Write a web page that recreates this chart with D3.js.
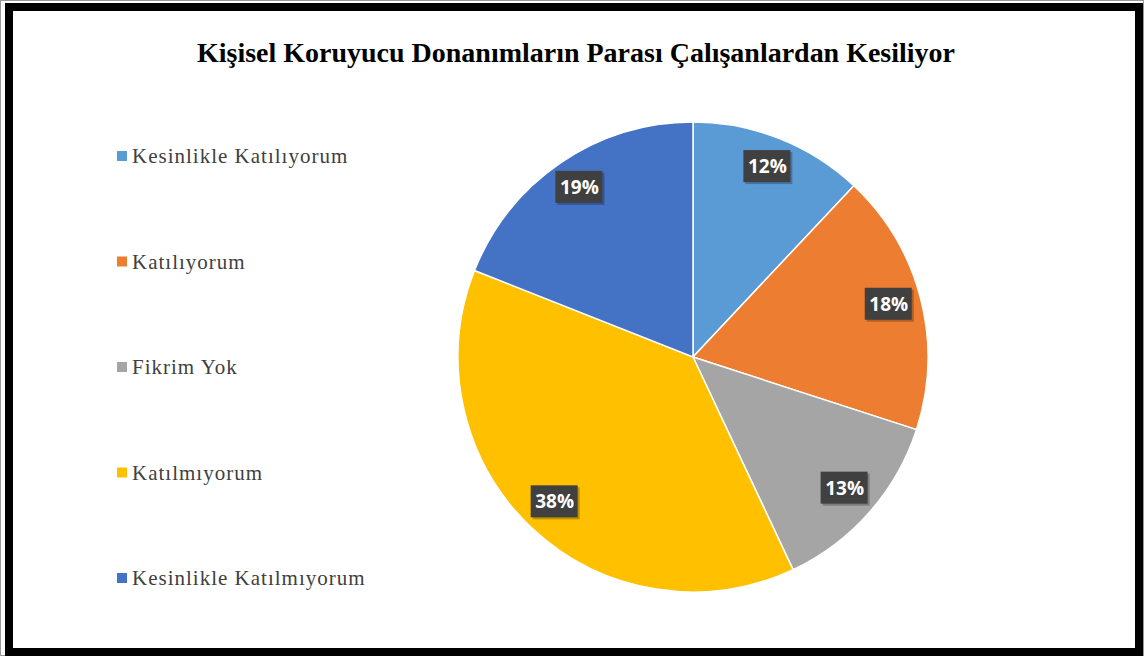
<!DOCTYPE html>
<html>
<head>
<meta charset="utf-8">
<script src="https://cdn.jsdelivr.net/npm/d3@7"></script>
<style>
  body { margin: 0; background: #fff; }
</style>
</head>
<body>
<div id="chart"></div>
<script>
// chart data
var categories = ["Kesinlikle Katılıyorum", "Katılıyorum", "Fikrim Yok", "Katılmıyorum", "Kesinlikle Katılmıyorum"]
var values = [12, 18, 13, 38, 19]
var colors = ["#5B9BD5", "#ED7D31", "#A5A5A5", "#FFC000", "#4472C4"]
var title = "Kişisel Koruyucu Donanımların Parası Çalışanlardan Kesiliyor"

var width = 1144
var height = 656
var cx = 693, cy = 357, radius = 235
var serif = '"Liberation Serif", "Times New Roman", Times, serif'

var svg = d3.select('#chart')
            .append('svg')
            .attr('width', width)
            .attr('height', height)

// frame
svg.append('rect')
    .attr('x', 0.5).attr('y', 0.5)
    .attr('width', width - 1).attr('height', height - 1)
    .attr('fill', 'none').attr('stroke', '#999').attr('stroke-width', 1)
svg.append('rect')
    .attr('x', 9).attr('y', 7)
    .attr('width', 1130).attr('height', 645)
    .attr('fill', '#fff').attr('stroke', '#000').attr('stroke-width', 8)

// title
svg.append('text')
    .attr('x', 576).attr('y', 62)
    .attr('text-anchor', 'middle')
    .attr('textLength', 758)
    .attr('lengthAdjust', 'spacingAndGlyphs')
    .style('font-family', serif)
    .style('font-weight', 'bold')
    .style('font-size', '27px')
    .attr('fill', '#000')
    .text(title)

// legend
var legendY = d3.scalePoint()
                .domain(categories)
                .range([156, 578])

var legend = svg.selectAll('.legend')
                .data(categories)
                .enter()
                .append('g')
                .attr('class', 'legend')
                .attr('transform', (d) => "translate(117," + legendY(d) + ")")

legend.append('rect')
    .attr('x', 0).attr('y', -5)
    .attr('width', 10).attr('height', 10)
    .attr('fill', (d, i) => colors[i])

legend.append('text')
    .attr('x', 15).attr('y', 7)
    .style('font-family', serif)
    .style('font-size', '21px')
    .style('letter-spacing', '1px')
    .attr('fill', '#404040')
    .text((d) => d)

// pie
var pie = d3.pie().sort(null).value((d) => d)
var arcs = pie(values)
var arc = d3.arc().innerRadius(0).outerRadius(radius)
var labelArc = d3.arc().innerRadius(radius * 0.86).outerRadius(radius * 0.86)

var pieGroup = svg.append('g')
                  .attr('transform', "translate(" + cx + "," + cy + ")")

pieGroup.selectAll('.slice')
    .data(arcs)
    .enter()
    .append('path')
    .attr('class', 'slice')
    .attr('d', arc)
    .attr('fill', (d, i) => colors[i])
    .attr('stroke', '#fff')
    .attr('stroke-width', 1.5)

var labels = pieGroup.selectAll('.lbl')
                     .data(arcs)
                     .enter()
                     .append('g')
                     .attr('class', 'lbl')
                     .attr('transform', (d) => "translate(" + labelArc.centroid(d) + ")")

labels.append('rect')
    .attr('x', -22).attr('y', -17)
    .attr('width', 47).attr('height', 32)
    .attr('fill', '#000').attr('opacity', 0.25)
labels.append('rect')
    .attr('x', -24).attr('y', -19)
    .attr('width', 47).attr('height', 32)
    .attr('fill', '#404040')

labels.append('text')
    .attr('x', 0).attr('y', 4)
    .attr('text-anchor', 'middle')
    .style('font-family', '"Open Sans", "Liberation Sans", sans-serif')
    .style('font-weight', 'bold')
    .style('font-size', '19px')
    .attr('fill', '#fff')
    .text((d) => d.data + "%")
</script>
</body>
</html>
